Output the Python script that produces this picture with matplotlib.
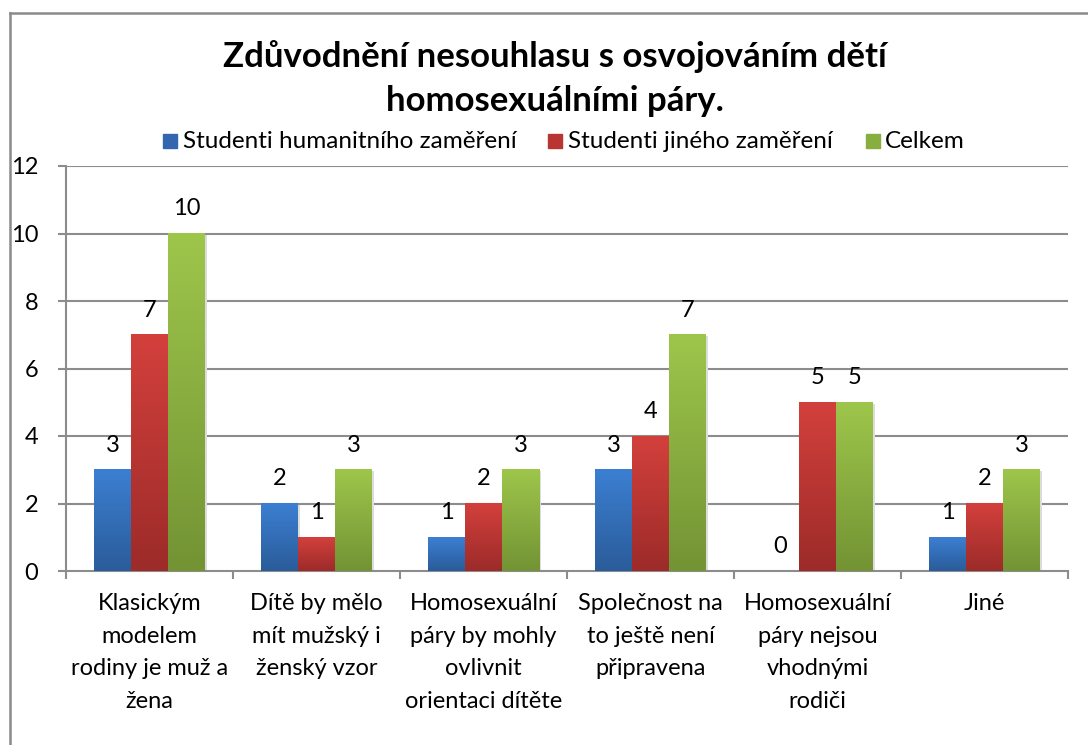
import matplotlib
matplotlib.use("Agg")
import matplotlib.pyplot as plt
import numpy as np
from matplotlib.patches import Rectangle
from matplotlib.colors import LinearSegmentedColormap
from matplotlib.lines import Line2D

title = "Zdůvodnění nesouhlasu s osvojováním dětí\nhomosexuálními páry."
categories = [
    "Klasickým\nmodelem\nrodiny je muž a\nžena",
    "Dítě by mělo\nmít mužský i\nženský vzor",
    "Homosexuální\npáry by mohly\novlivnit\norientaci dítěte",
    "Společnost na\nto ještě není\npřipravena",
    "Homosexuální\npáry nejsou\nvhodnými\nrodiči",
    "Jiné",
]
series_names = ["Studenti humanitního zaměření", "Studenti jiného zaměření", "Celkem"]
humanitni = [3, 2, 1, 3, 0, 1]
jine = [7, 1, 2, 4, 5, 2]
celkem = [10, 3, 3, 7, 5, 3]
y_ticks = [0, 2, 4, 6, 8, 10, 12]

series = [humanitni, jine, celkem]
top_cols = ["#3C7FD2", "#D3403C", "#9EC64B"]
bot_cols = ["#2A5C9A", "#9C2B29", "#739334"]
mid_cols = ["#3466B0", "#B83532", "#88AE40"]

FONT = "Lato"
plt.rcParams["font.family"] = [FONT, "DejaVu Sans"]

W, H = 1088, 745
fig = plt.figure(figsize=(W / 100, H / 100), dpi=100)

def fx(x):
    return x / W

def fy(y):
    return 1 - y / H

# chart border (top and left visible)
fig.add_artist(Line2D([fx(10), fx(1088)], [fy(13), fy(13)], color="#8a8a8a", lw=1.8))
fig.add_artist(Line2D([fx(10), fx(10)], [fy(13), fy(745)], color="#8a8a8a", lw=1.8))

ax_l, ax_r, ax_t, ax_b = 66, 1068, 166, 571
ax = fig.add_axes([fx(ax_l), fy(ax_b), fx(ax_r - ax_l), (ax_b - ax_t) / H])

n = len(categories)
bw = 37 / 167.0
x = np.arange(n)

grid_col = "#8c8c8c"
for t in y_ticks[1:]:
    ax.axhline(t, color=grid_col, lw=1.5, zorder=1)

for si, vals in enumerate(series):
    cmap = LinearSegmentedColormap.from_list("g%d" % si, [bot_cols[si], top_cols[si]])
    grad = np.linspace(0, 1, 256).reshape(-1, 1)
    for ci, v in enumerate(vals):
        x0 = x[ci] + (si - 1) * bw - bw / 2
        if v > 0:
            ax.add_patch(Rectangle((x0 + bw, 0), 0.012, v - 0.04, color="#dcdcdc", zorder=2, lw=0))
            ax.imshow(grad, extent=(x0, x0 + bw, 0, v), origin="lower", aspect="auto",
                      cmap=cmap, zorder=3, interpolation="bilinear")
        ax.annotate(str(v), (x[ci] + (si - 1) * bw, v), xytext=(0, 13), textcoords="offset points",
                    ha="center", va="baseline", fontsize=17, color="black", zorder=5)

ax.set_xlim(-0.5, n - 0.5)
ax.set_ylim(0, 12)

for s in ["top", "right"]:
    ax.spines[s].set_visible(False)
for s in ["left", "bottom"]:
    ax.spines[s].set_color(grid_col)
    ax.spines[s].set_linewidth(1.5)

ax.set_yticks(y_ticks)
ax.set_yticklabels([str(t) for t in y_ticks], fontsize=17)
ax.tick_params(axis="y", length=6, width=1.5, color=grid_col, pad=14)
ax.set_xticks(np.arange(-0.5, n, 1.0))
ax.set_xticklabels([])
ax.tick_params(axis="x", length=6, width=1.5, color=grid_col)
ax.set_xticks(x, minor=True)
ax.set_xticklabels(categories, minor=True, fontsize=17, linespacing=1.68, va="top")
ax.tick_params(axis="x", which="minor", length=0, pad=16)

# title
lines = title.split("\n")
fig.text(fx(555), fy(67), lines[0], ha="center", va="baseline", fontsize=25, fontweight="bold")
fig.text(fx(555), fy(111), lines[1], ha="center", va="baseline", fontsize=25, fontweight="bold")

# legend
leg_items = [(163, 183), (548, 568), (866, 885)]
for si, (sx, tx) in enumerate(leg_items):
    fig.add_artist(Rectangle((fx(sx), fy(148)), fx(14), 14 / H, color=mid_cols[si]))
    fig.text(fx(tx), fy(148), series_names[si], ha="left", va="baseline", fontsize=17.5)

fig.savefig("out.png", dpi=100)
